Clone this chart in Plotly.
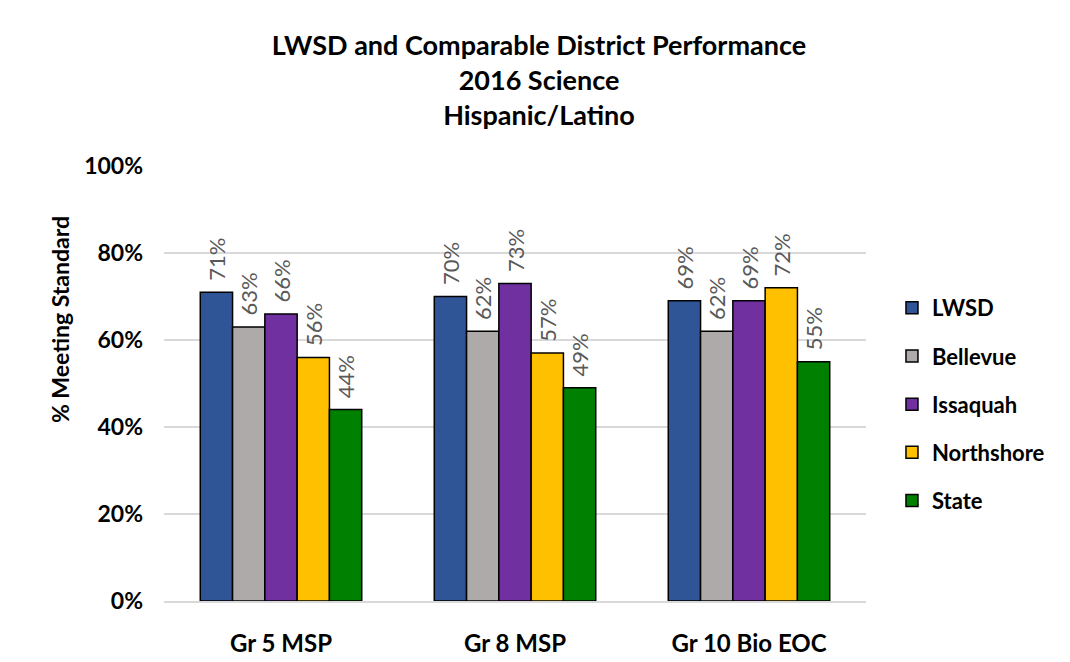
import plotly.graph_objects as go

# test categories and district results
categories = ["Gr 5 MSP", "Gr 8 MSP", "Gr 10 Bio EOC"]
lwsd = [0.71, 0.70, 0.69]
bellevue = [0.63, 0.62, 0.62]
issaquah = [0.66, 0.73, 0.69]
northshore = [0.56, 0.57, 0.72]
state = [0.44, 0.49, 0.55]

series = [
    ("LWSD", lwsd, "#2F5597"),
    ("Bellevue", bellevue, "#AEAAAA"),
    ("Issaquah", issaquah, "#7030A0"),
    ("Northshore", northshore, "#FFC000"),
    ("State", state, "#008000"),
]

FONT = "Lato, Carlito, Calibri, sans-serif"

fig = go.Figure()

for name, vals, color in series:
    fig.add_trace(
        go.Bar(
            x=categories, y=vals, name=f"<b>{name}</b>",
            legendgroup=name,
            marker=dict(color=color, line=dict(color="black", width=1.5)),
            # leading spaces push the rotated label up off the bar top
            text=["\u00a0\u2009" + f"{v:.0%}" for v in vals],
            textposition="outside", textangle=-90,
            constraintext="none",
            textfont=dict(family=FONT, size=22, color="#595959"),
            cliponaxis=False,
        )
    )

# page body has an 8px margin, so the figure is drawn 8px smaller
fig.update_layout(
    width=1062, height=654,
    paper_bgcolor="white", plot_bgcolor="white",
    margin=dict(l=156, r=204, t=158, b=61),
    font=dict(family=FONT, color="black"),
    title=dict(
        text="<b>LWSD and Comparable District Performance<br>2016 Science<br>Hispanic/Latino</b>",
        x=0.5, xanchor="center", y=1 - 47 / 654, yanchor="top",
        font=dict(size=27, family=FONT),
    ),
    barmode="group", bargap=0.31, bargroupgap=0,
    legend=dict(
        x=1.037, y=0.722, xanchor="left", yanchor="top",
        font=dict(size=22, family=FONT),
        tracegroupgap=16.6, itemwidth=30,
    ),
    showlegend=True,
)

fig.update_yaxes(
    range=[0, 1], dtick=0.2, tickformat=".0%",
    showgrid=True, gridcolor="#D9D9D9", gridwidth=1.5,
    zeroline=False, showline=False, automargin=False,
    ticks="", ticklabelstandoff=20,
    tickprefix="<b>", ticksuffix="</b>",
    tickfont=dict(size=23, family=FONT),
)

# axis title sits a bit above the plot centre, as in the original
fig.add_annotation(
    text="<b>% Meeting Standard</b>", textangle=-90,
    xref="paper", yref="paper", x=-0.148, y=0.646,
    xanchor="center", yanchor="middle", showarrow=False,
    font=dict(size=23, family=FONT, color="black"),
)

fig.update_xaxes(
    showline=True, linecolor="#D9D9D9", linewidth=1.5,
    automargin=False,
    tickfont=dict(size=24, family=FONT),
    ticklabelstandoff=20,
    tickprefix="<b>", ticksuffix="</b>",
)

fig.write_html("out.html")
